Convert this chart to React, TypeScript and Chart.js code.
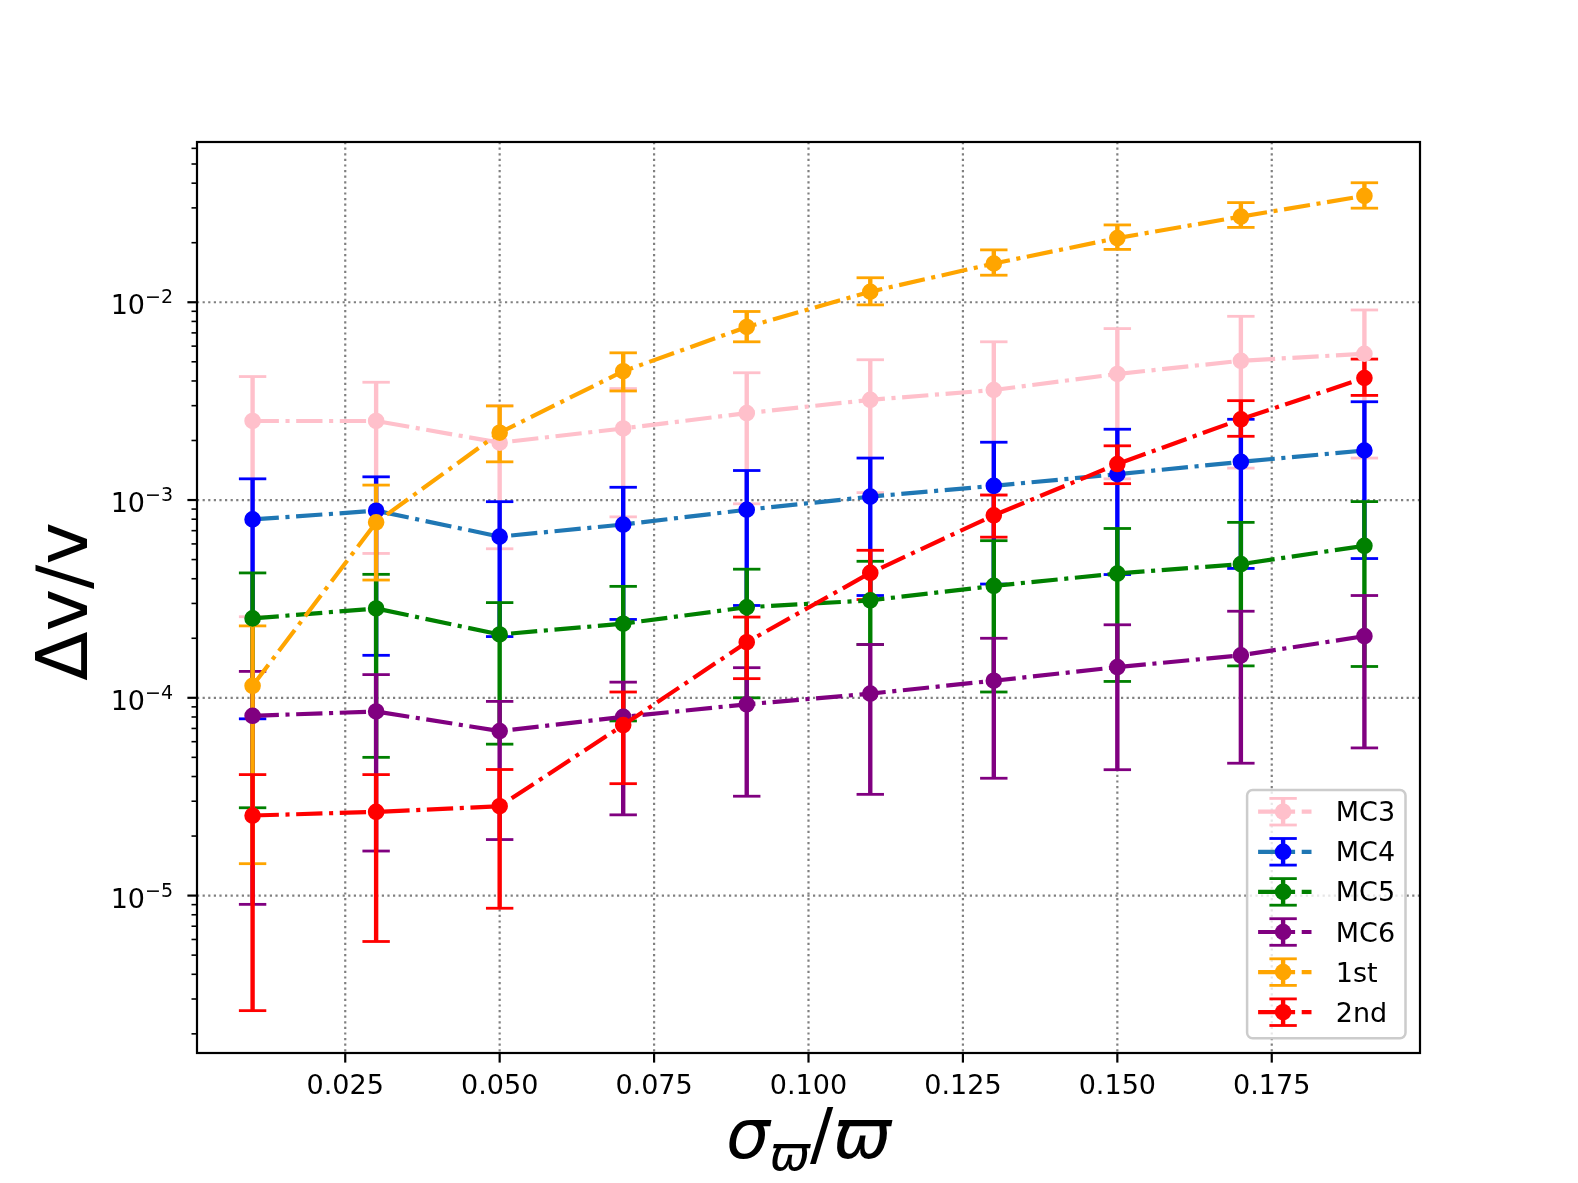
import React, { useEffect, useRef } from 'react'
import Chart from 'chart.js/auto'

// x positions of the runs
const xValues = [0.01, 0.03, 0.05, 0.07, 0.09, 0.11, 0.13, 0.15, 0.17, 0.19]

const mc3 = [2.51e-3, 2.51e-3, 1.95e-3, 2.3e-3, 2.75e-3, 3.21e-3, 3.6e-3, 4.34e-3, 5.06e-3, 5.49e-3]
const mc3Lo = [2.57e-4, 5.37e-4, 5.67e-4, 8.22e-4, 9.57e-4, 1.09e-3, 1.06e-3, 1.28e-3, 1.45e-3, 1.63e-3]
const mc3Hi = [4.21e-3, 3.94e-3, 3.0e-3, 3.66e-3, 4.4e-3, 5.12e-3, 6.31e-3, 7.36e-3, 8.49e-3, 9.14e-3]

const mc4 = [7.98e-4, 8.83e-4, 6.53e-4, 7.52e-4, 8.93e-4, 1.04e-3, 1.18e-3, 1.35e-3, 1.56e-3, 1.78e-3]
const mc4Lo = [7.83e-5, 1.64e-4, 2.04e-4, 2.49e-4, 2.93e-4, 3.29e-4, 3.76e-4, 4.2e-4, 4.51e-4, 5.06e-4]
const mc4Hi = [1.28e-3, 1.31e-3, 9.81e-4, 1.16e-3, 1.41e-3, 1.63e-3, 1.96e-3, 2.28e-3, 2.56e-3, 3.14e-3]

const mc5 = [2.52e-4, 2.83e-4, 2.09e-4, 2.37e-4, 2.87e-4, 3.11e-4, 3.68e-4, 4.25e-4, 4.74e-4, 5.87e-4]
const mc5Lo = [2.78e-5, 5.0e-5, 5.83e-5, 7.64e-5, 1.0e-4, 1.86e-4, 1.07e-4, 1.21e-4, 1.45e-4, 1.44e-4]
const mc5Hi = [4.28e-4, 4.21e-4, 3.03e-4, 3.66e-4, 4.47e-4, 4.9e-4, 6.23e-4, 7.18e-4, 7.71e-4, 9.82e-4]

const mc6 = [8.11e-5, 8.53e-5, 6.79e-5, 8.01e-5, 9.27e-5, 1.05e-4, 1.22e-4, 1.43e-4, 1.64e-4, 2.05e-4]
const mc6Lo = [9.03e-6, 1.68e-5, 1.92e-5, 2.56e-5, 3.18e-5, 3.25e-5, 3.92e-5, 4.33e-5, 4.67e-5, 5.58e-5]
const mc6Hi = [1.36e-4, 1.31e-4, 9.59e-5, 1.2e-4, 1.42e-4, 1.86e-4, 2.0e-4, 2.34e-4, 2.74e-4, 3.29e-4]

const first = [1.15e-4, 7.71e-4, 2.19e-3, 4.48e-3, 7.5e-3, 1.13e-2, 1.57e-2, 2.11e-2, 2.71e-2, 3.45e-2]
const firstLo = [1.45e-5, 3.94e-4, 1.56e-3, 3.56e-3, 6.31e-3, 9.7e-3, 1.37e-2, 1.85e-2, 2.39e-2, 2.99e-2]
const firstHi = [2.31e-4, 1.19e-3, 2.99e-3, 5.55e-3, 8.98e-3, 1.33e-2, 1.84e-2, 2.46e-2, 3.19e-2, 4.02e-2]

const second = [2.54e-5, 2.65e-5, 2.83e-5, 7.28e-5, 1.91e-4, 4.28e-4, 8.37e-4, 1.52e-3, 2.56e-3, 4.14e-3]
const secondLo = [2.62e-6, 5.86e-6, 8.63e-6, 3.68e-5, 1.25e-4, 3.14e-4, 6.49e-4, 1.21e-3, 2.1e-3, 3.38e-3]
const secondHi = [4.09e-5, 4.09e-5, 4.34e-5, 1.07e-4, 2.56e-4, 5.57e-4, 1.06e-3, 1.88e-3, 3.18e-3, 5.16e-3]

const xTicks = [0.025, 0.05, 0.075, 0.1, 0.125, 0.15, 0.175]
const xTickLabels = ['0.025', '0.050', '0.075', '0.100', '0.125', '0.150', '0.175']
const yTicks = [1e-5, 1e-4, 1e-3, 1e-2]
const yTickExps = ['\u22125', '\u22124', '\u22123', '\u22122']

const X_MIN = 0.001
const X_MAX = 0.199
const Y_MIN = 1.6e-6
const Y_MAX = 0.0646

const series = [
  { label: 'MC3', y: mc3, lo: mc3Lo, hi: mc3Hi, color: 'pink', line: 'pink' },
  { label: 'MC4', y: mc4, lo: mc4Lo, hi: mc4Hi, color: 'blue', line: '#1f77b4' },
  { label: 'MC5', y: mc5, lo: mc5Lo, hi: mc5Hi, color: 'green', line: 'green' },
  { label: 'MC6', y: mc6, lo: mc6Lo, hi: mc6Hi, color: 'purple', line: 'purple' },
  { label: '1st', y: first, lo: firstLo, hi: firstHi, color: 'orange', line: 'orange' },
  { label: '2nd', y: second, lo: secondLo, hi: secondHi, color: 'red', line: 'red' }
]

const FONT = "'DejaVu Sans'"
const LINE_W = 4.2
const DASH_DOT = [26.3, 6.6, 4.1, 6.6]
const BAR_W = 4.4
const CAP_W = 2.8
const CAP_HALF = 13.7
const MARKER_R = 8.3

function seg(ctx: CanvasRenderingContext2D, x1: number, y1: number, x2: number, y2: number) {
  ctx.beginPath()
  ctx.moveTo(x1, y1)
  ctx.lineTo(x2, y2)
  ctx.stroke()
}

function errorBar(ctx: CanvasRenderingContext2D, x: number, yLo: number, yHi: number, color: string) {
  ctx.strokeStyle = color
  ctx.lineWidth = BAR_W
  seg(ctx, x, yLo, x, yHi)
  ctx.lineWidth = CAP_W
  seg(ctx, x - CAP_HALF, yLo, x + CAP_HALF, yLo)
  seg(ctx, x - CAP_HALF, yHi, x + CAP_HALF, yHi)
}

// draws text pieces in a row, each with its own font and vertical offset
function drawPieces(ctx: CanvasRenderingContext2D, pieces: { t: string; f: string; dy: number }[], cx: number, baseline: number) {
  let total = 0
  pieces.forEach(p => {
    ctx.font = p.f
    total += ctx.measureText(p.t).width
  })
  let x = cx - total / 2
  ctx.textAlign = 'left'
  ctx.textBaseline = 'alphabetic'
  pieces.forEach(p => {
    ctx.font = p.f
    ctx.fillText(p.t, x, baseline + p.dy)
    x += ctx.measureText(p.t).width
  })
}

const axesPlugin = {
  id: 'mplAxes',
  beforeDatasetsDraw(chart: any) {
    const { ctx, chartArea: a } = chart
    const xs = chart.scales.x
    const ys = chart.scales.y
    ctx.save()
    ctx.beginPath()
    ctx.rect(a.left, a.top, a.right - a.left, a.bottom - a.top)
    ctx.clip()

    // dotted grid
    ctx.strokeStyle = '#808080'
    ctx.lineWidth = 2.2
    ctx.setLineDash([2.2, 3.4])
    xTicks.forEach(t => {
      const px = xs.getPixelForValue(t)
      seg(ctx, px, a.top, px, a.bottom)
    })
    yTicks.forEach(t => {
      const py = ys.getPixelForValue(t)
      seg(ctx, a.left, py, a.right, py)
    })
    ctx.setLineDash([])

    // error bars sit under every data line
    ctx.lineCap = 'butt'
    series.forEach(s => {
      xValues.forEach((xv, j) => {
        errorBar(ctx, xs.getPixelForValue(xv), ys.getPixelForValue(s.lo[j]), ys.getPixelForValue(s.hi[j]), s.color)
      })
    })
    ctx.restore()
  },
  afterDraw(chart: any) {
    const { ctx, chartArea: a } = chart
    const xs = chart.scales.x
    const ys = chart.scales.y
    ctx.save()

    // frame
    ctx.strokeStyle = '#000'
    ctx.lineWidth = 2.2
    ctx.strokeRect(a.left, a.top, a.right - a.left, a.bottom - a.top)

    // x ticks and labels
    ctx.fillStyle = '#000'
    ctx.font = `27px ${FONT}`
    ctx.textAlign = 'center'
    ctx.textBaseline = 'alphabetic'
    xTicks.forEach((t, i) => {
      const px = xs.getPixelForValue(t)
      ctx.lineWidth = 2.2
      seg(ctx, px, a.bottom, px, a.bottom + 9.6)
      ctx.fillText(xTickLabels[i], px, a.bottom + 41)
    })

    // y minor ticks
    ctx.lineWidth = 1.6
    for (let e = -6; e <= -2; e++) {
      for (let m = 2; m <= 9; m++) {
        const v = m * Math.pow(10, e)
        if (v < Y_MIN || v > Y_MAX) continue
        const py = ys.getPixelForValue(v)
        seg(ctx, a.left - 5.5, py, a.left, py)
      }
    }

    // y major ticks and labels
    yTicks.forEach((t, i) => {
      const py = ys.getPixelForValue(t)
      ctx.lineWidth = 2.2
      seg(ctx, a.left - 9.6, py, a.left, py)
      const right = a.left - 24
      ctx.textAlign = 'right'
      ctx.font = `19px ${FONT}`
      const supW = ctx.measureText(yTickExps[i]).width
      ctx.fillText(yTickExps[i], right, py + 1)
      ctx.font = `27px ${FONT}`
      ctx.fillText('10', right - supW, py + 12)
    })

    // axis titles
    drawPieces(ctx, [
      { t: '\u03c3', f: `italic 69px ${FONT}`, dy: 0 },
      { t: '\u03d6', f: `italic 48px ${FONT}`, dy: 12 },
      { t: '/', f: `69px ${FONT}`, dy: 0 },
      { t: '\u03d6', f: `italic 69px ${FONT}`, dy: 0 }
    ], (a.left + a.right) / 2, 1158)

    ctx.save()
    ctx.translate(87, (a.top + a.bottom) / 2 + 4)
    ctx.rotate(-Math.PI / 2)
    drawPieces(ctx, [{ t: '\u0394v/v', f: `72px ${FONT}`, dy: 0 }], 0, 0)
    ctx.restore()

    // legend
    const bw = 158.4
    const bh = 248.3
    const bx = a.right - 14.5 - bw
    const by = a.bottom - 14.7 - bh
    ctx.beginPath()
    ctx.roundRect(bx, by, bw, bh, 5.5)
    ctx.fillStyle = 'rgba(255,255,255,0.8)'
    ctx.fill()
    ctx.strokeStyle = '#cccccc'
    ctx.lineWidth = 2.5
    ctx.stroke()

    series.forEach((s, i) => {
      const ry = by + 21.7 + i * 40.1
      const hx = bx + 36
      ctx.strokeStyle = s.line
      ctx.lineWidth = LINE_W
      ctx.setLineDash(DASH_DOT)
      seg(ctx, bx + 11, ry, bx + 64.4, ry)
      ctx.setLineDash([])
      errorBar(ctx, hx, ry + 13.3, ry - 13.3, s.color)
      ctx.fillStyle = s.color
      ctx.beginPath()
      ctx.arc(hx, ry, MARKER_R, 0, Math.PI * 2)
      ctx.fill()
      ctx.fillStyle = '#000'
      ctx.font = `27px ${FONT}`
      ctx.textAlign = 'left'
      ctx.fillText(s.label, bx + 88.7, ry + 9.5)
    })

    ctx.restore()
  }
}

const App: React.FC = () => {
  const chartRef = useRef<HTMLCanvasElement | null>(null)

  useEffect(() => {
    if (!chartRef.current) return
    const chart = new Chart(chartRef.current, {
      type: 'line',
      data: {
        datasets: series.map((s, i) => ({
          label: s.label,
          data: xValues.map((xv, j) => ({ x: xv, y: s.y[j] })),
          borderColor: s.line,
          backgroundColor: s.color,
          pointBackgroundColor: s.color,
          pointBorderColor: s.color,
          pointRadius: MARKER_R - 1,
          pointHoverRadius: MARKER_R - 1,
          pointBorderWidth: 2,
          borderWidth: LINE_W,
          borderDash: DASH_DOT,
          tension: 0,
          fill: false,
          order: series.length - i
        }))
      },
      options: {
        animation: false,
        responsive: true,
        maintainAspectRatio: false,
        devicePixelRatio: 1,
        events: [],
        layout: { padding: { left: 197, right: 158, top: 142, bottom: 130 } },
        plugins: {
          legend: { display: false },
          tooltip: { enabled: false },
          title: { display: false }
        },
        scales: {
          x: { type: 'linear', display: false, min: X_MIN, max: X_MAX },
          y: { type: 'logarithmic', display: false, min: Y_MIN, max: Y_MAX }
        }
      },
      plugins: [axesPlugin]
    } as any)

    return () => {
      chart.destroy()
    }
  }, [])

  return (
    <div style={{ position: 'fixed', left: 0, top: 0, width: 1578, height: 1183, background: '#fff' }}>
      <canvas ref={chartRef} />
    </div>
  )
}

export default App
